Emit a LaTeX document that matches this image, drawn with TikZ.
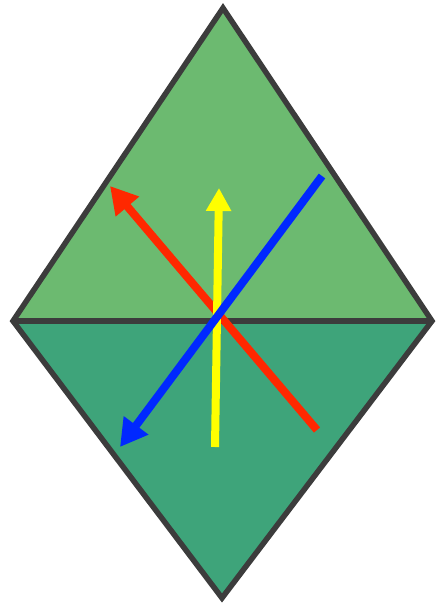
\documentclass[tikz,border=0pt]{standalone}
\usepackage{tikz}
\usetikzlibrary{arrows.meta}
\usepackage{xcolor}
\definecolor{lightleaf}{RGB}{108,186,112}
\definecolor{darkleaf}{RGB}{62,164,122}
\definecolor{edgegray}{RGB}{60,60,60}
\definecolor{vred}{RGB}{255,40,0}
\definecolor{vyellow}{RGB}{255,255,0}
\definecolor{vblue}{RGB}{0,40,255}

\begin{document}
\begin{tikzpicture}[x=1pt, y=-1pt,
  vec/.style={line width=8pt, -{Triangle[length=27pt, width=29pt]}},
  rim/.style={edgegray, line width=5.5pt, line join=miter}]
  \useasboundingbox (0,0) rectangle (437,606);
  \coordinate (top) at (223,8);
  \coordinate (left) at (13,321);
  \coordinate (right) at (432,321);
  \coordinate (bottom) at (222,598);
  % the two halves
  \fill[lightleaf] (left) -- (top) -- (right) -- cycle;
  \fill[darkleaf] (left) -- (bottom) -- (right) -- cycle;
  \draw[rim] (left) -- (top) -- (right) -- (bottom) -- cycle;
  \draw[rim] (left) -- (right);
  % vectors
  \coordinate (r0) at (317,430);
  \coordinate (r1) at (110,186);
  \coordinate (y0) at (215,447);
  \coordinate (y1) at (219,188);
  \coordinate (b0) at (322,176);
  \coordinate (b1) at (120,447);
  \draw[vec, vred] (r0) -- (r1);
  \draw[vec, vyellow, -{Triangle[length=23pt, width=24pt]}] (y0) -- (y1);
  \draw[vec, vblue] (b0) -- (b1);
\end{tikzpicture}
\end{document}
